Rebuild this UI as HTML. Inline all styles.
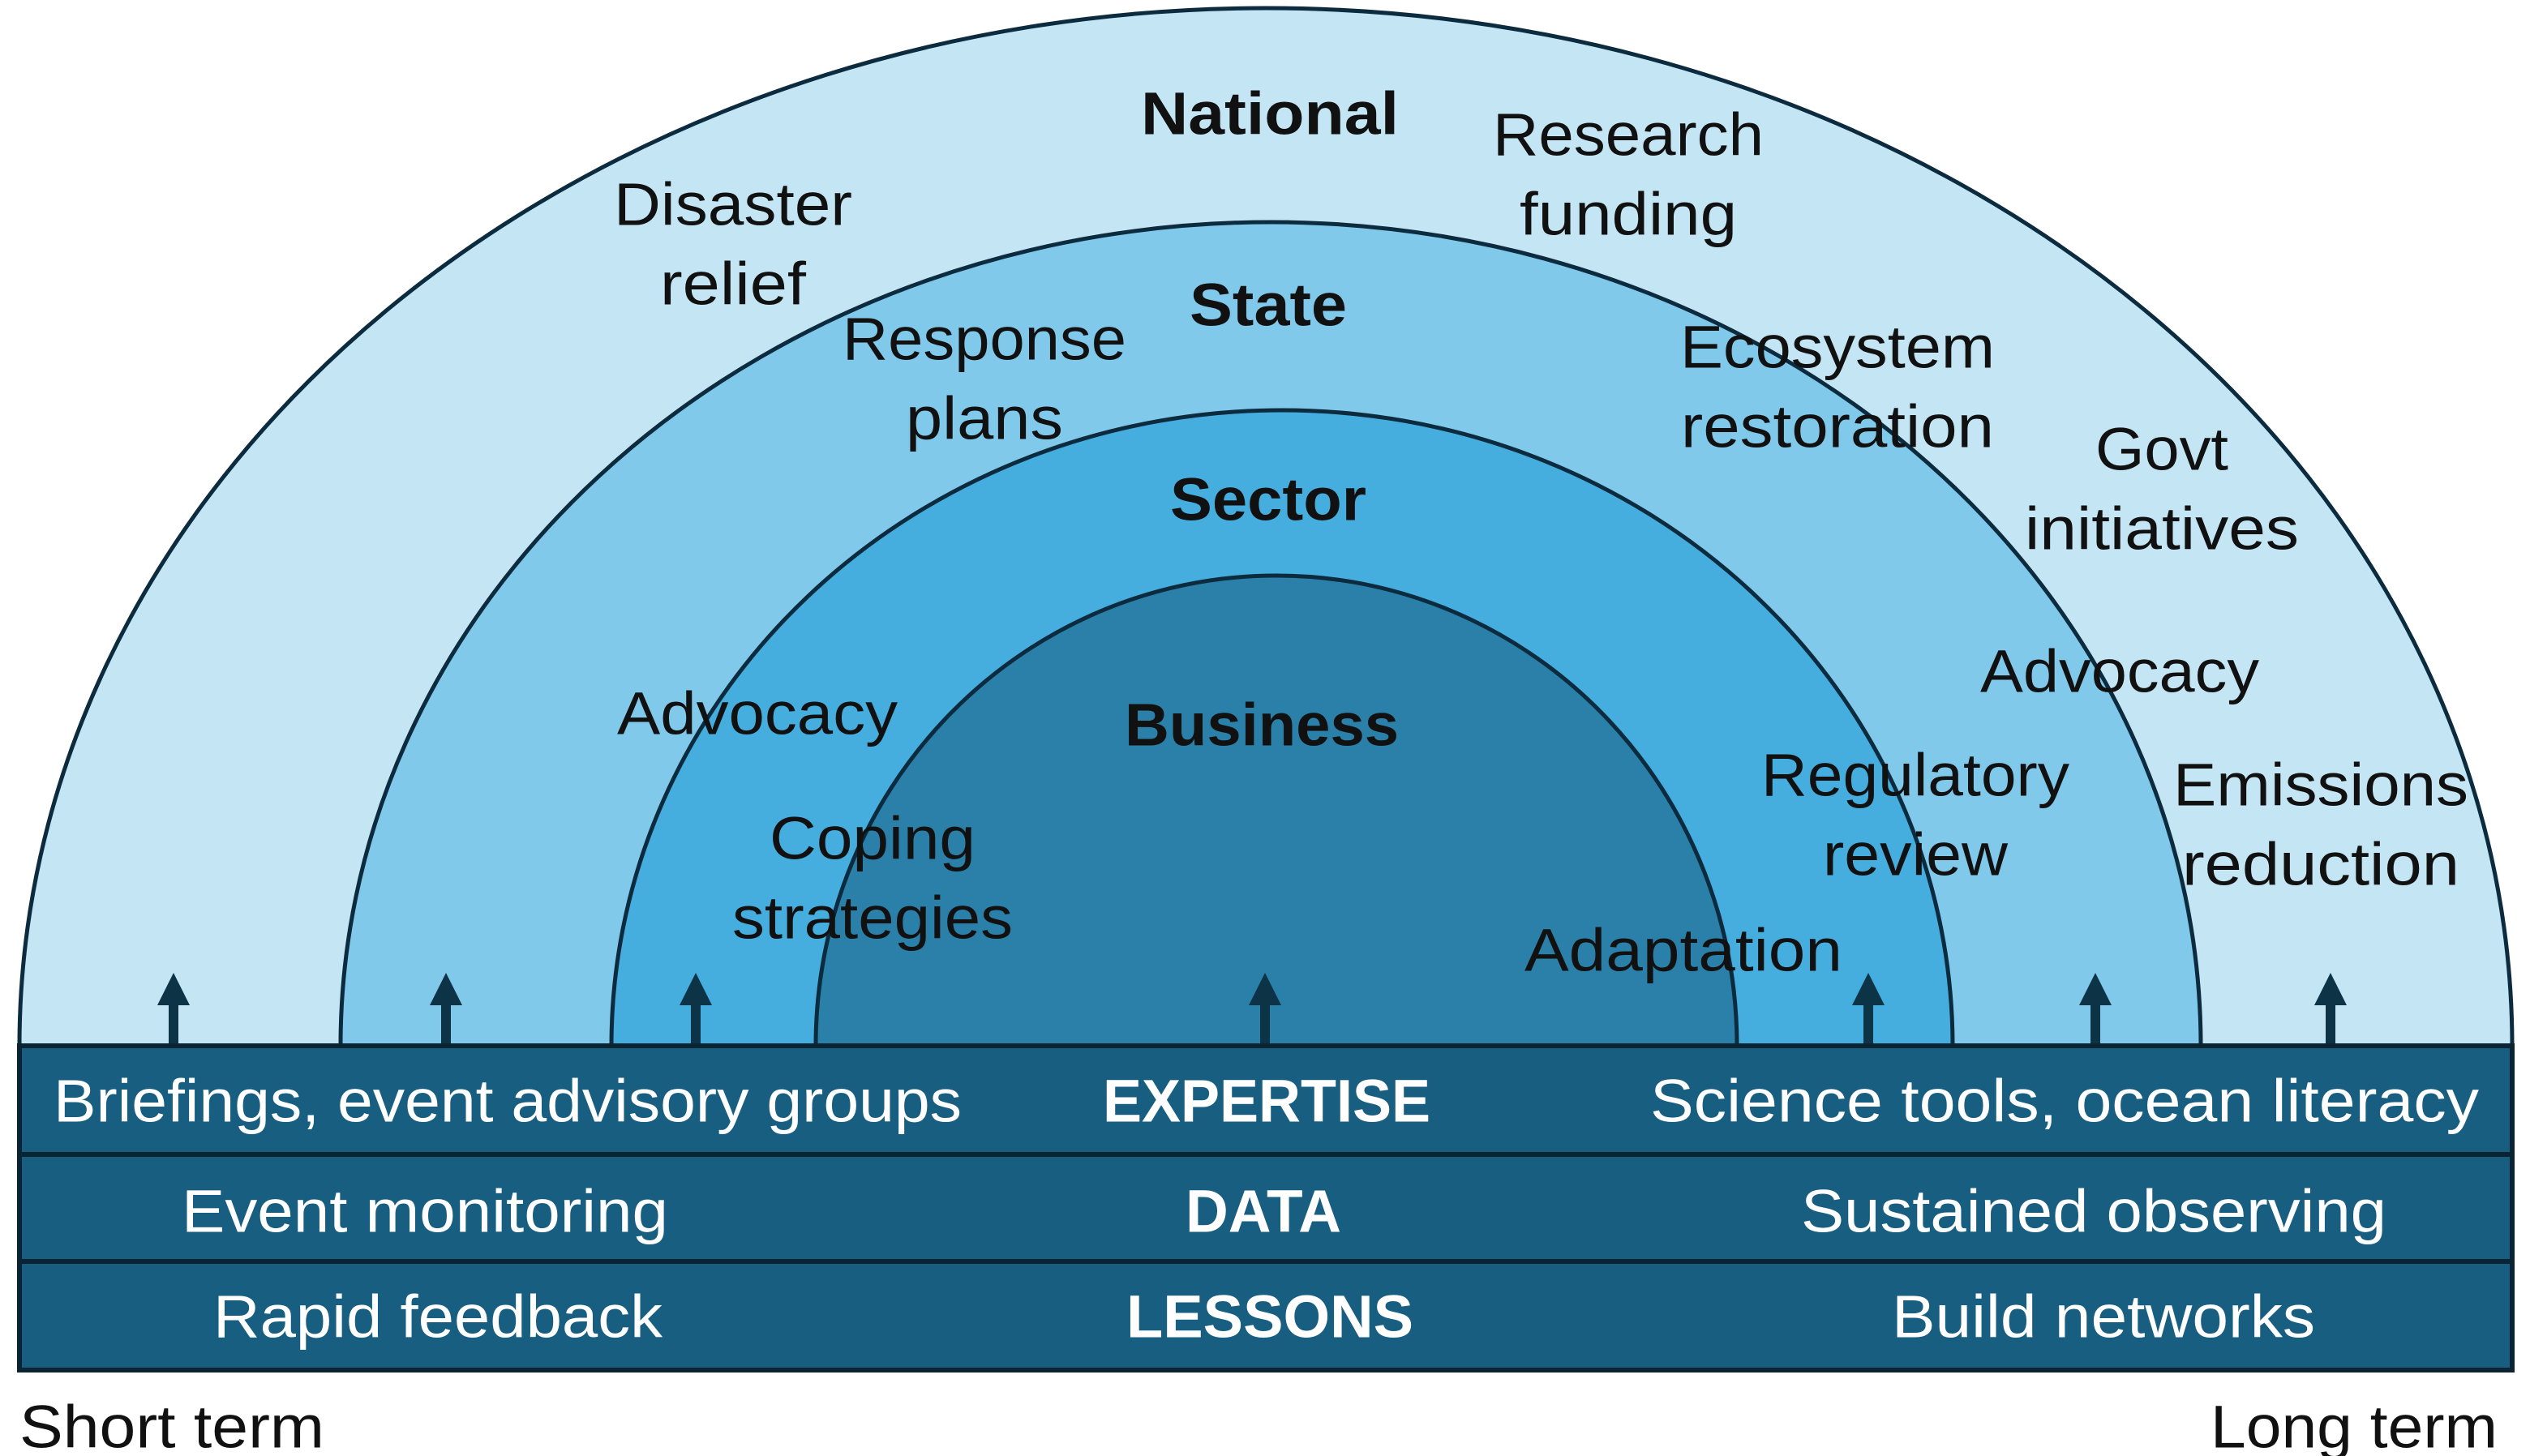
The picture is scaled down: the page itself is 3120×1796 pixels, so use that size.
<!DOCTYPE html>
<html><head><meta charset="utf-8">
<style>
html,body{margin:0;padding:0;background:#fff;}
svg{display:block;}
text{font-family:"Liberation Sans",sans-serif;font-size:74px;fill:#111;dominant-baseline:central;text-anchor:middle;}
.b{font-weight:bold;}
.w{fill:#fff;}
</style></head><body>
<svg width="3120" height="1796" viewBox="0 0 3120 1796" xmlns="http://www.w3.org/2000/svg">
<defs>
<g id="ar"><rect x="-6" y="1236" width="12" height="56"/><polygon points="-20,1240 20,1240 0,1200"/></g>
</defs>
<g stroke="#0d2b3e" stroke-width="5">
<path d="M24,1290 A1537,1280 0 0 1 3098,1290 Z" fill="#c4e5f4"/>
<path d="M420,1290 A1147,1016 0 0 1 2714,1290 Z" fill="#80c9ea"/>
<path d="M754,1290 A827,784 0 0 1 2408,1290 Z" fill="#45aedf"/>
<path d="M1006,1290 A568,580 0 0 1 2142,1290 Z" fill="#2a80a8"/>
</g>
<g fill="#0d3347">
<use href="#ar" x="214"/><use href="#ar" x="550"/><use href="#ar" x="858"/><use href="#ar" x="1560"/><use href="#ar" x="2304"/><use href="#ar" x="2584"/><use href="#ar" x="2874"/>
</g>
<g fill="#175e80" stroke="#0a2433" stroke-width="6">
<rect x="24" y="1290" width="3074" height="134"/>
<rect x="24" y="1424" width="3074" height="132"/>
<rect x="24" y="1556" width="3074" height="134"/>
</g>
<text class="w" x="626" y="1358" textLength="1120" lengthAdjust="spacingAndGlyphs">Briefings, event advisory groups</text>
<text class="w b" x="1562" y="1358" textLength="404" lengthAdjust="spacingAndGlyphs">EXPERTISE</text>
<text class="w" x="2546" y="1358" textLength="1022" lengthAdjust="spacingAndGlyphs">Science tools, ocean literacy</text>
<text class="w" x="524" y="1494" textLength="600" lengthAdjust="spacingAndGlyphs">Event monitoring</text>
<text class="w b" x="1558" y="1494" textLength="192" lengthAdjust="spacingAndGlyphs">DATA</text>
<text class="w" x="2582" y="1494" textLength="722" lengthAdjust="spacingAndGlyphs">Sustained observing</text>
<text class="w" x="540" y="1624" textLength="554" lengthAdjust="spacingAndGlyphs">Rapid feedback</text>
<text class="w b" x="1566" y="1624" textLength="354" lengthAdjust="spacingAndGlyphs">LESSONS</text>
<text class="w" x="2594" y="1624" textLength="522" lengthAdjust="spacingAndGlyphs">Build networks</text>
<text x="212" y="1760" textLength="376" lengthAdjust="spacingAndGlyphs">Short term</text>
<text x="2903" y="1760" textLength="354" lengthAdjust="spacingAndGlyphs">Long term</text>
<text class="b" x="1566" y="140" textLength="318" lengthAdjust="spacingAndGlyphs">National</text>
<text class="b" x="1564" y="376" textLength="194" lengthAdjust="spacingAndGlyphs">State</text>
<text class="b" x="1564" y="616" textLength="242" lengthAdjust="spacingAndGlyphs">Sector</text>
<text class="b" x="1556" y="894" textLength="338" lengthAdjust="spacingAndGlyphs">Business</text>
<text x="904" y="252" textLength="294" lengthAdjust="spacingAndGlyphs">Disaster</text>
<text x="904" y="350" textLength="180" lengthAdjust="spacingAndGlyphs">relief</text>
<text x="2008" y="166" textLength="334" lengthAdjust="spacingAndGlyphs">Research</text>
<text x="2008" y="264" textLength="268" lengthAdjust="spacingAndGlyphs">funding</text>
<text x="1214" y="418" textLength="350" lengthAdjust="spacingAndGlyphs">Response</text>
<text x="1214" y="516" textLength="194" lengthAdjust="spacingAndGlyphs">plans</text>
<text x="2266" y="428" textLength="388" lengthAdjust="spacingAndGlyphs">Ecosystem</text>
<text x="2266" y="526" textLength="386" lengthAdjust="spacingAndGlyphs">restoration</text>
<text x="2666" y="554" textLength="164" lengthAdjust="spacingAndGlyphs">Govt</text>
<text x="2666" y="652" textLength="338" lengthAdjust="spacingAndGlyphs">initiatives</text>
<text x="934" y="880" textLength="346" lengthAdjust="spacingAndGlyphs">Advocacy</text>
<text x="2614" y="828" textLength="344" lengthAdjust="spacingAndGlyphs">Advocacy</text>
<text x="2362" y="956" textLength="380" lengthAdjust="spacingAndGlyphs">Regulatory</text>
<text x="2362" y="1054" textLength="228" lengthAdjust="spacingAndGlyphs">review</text>
<text x="2862" y="968" textLength="364" lengthAdjust="spacingAndGlyphs">Emissions</text>
<text x="2862" y="1066" textLength="342" lengthAdjust="spacingAndGlyphs">reduction</text>
<text x="1076" y="1034" textLength="254" lengthAdjust="spacingAndGlyphs">Coping</text>
<text x="1076" y="1132" textLength="346" lengthAdjust="spacingAndGlyphs">strategies</text>
<text x="2076" y="1172" textLength="392" lengthAdjust="spacingAndGlyphs">Adaptation</text>
</svg>
</body></html>
